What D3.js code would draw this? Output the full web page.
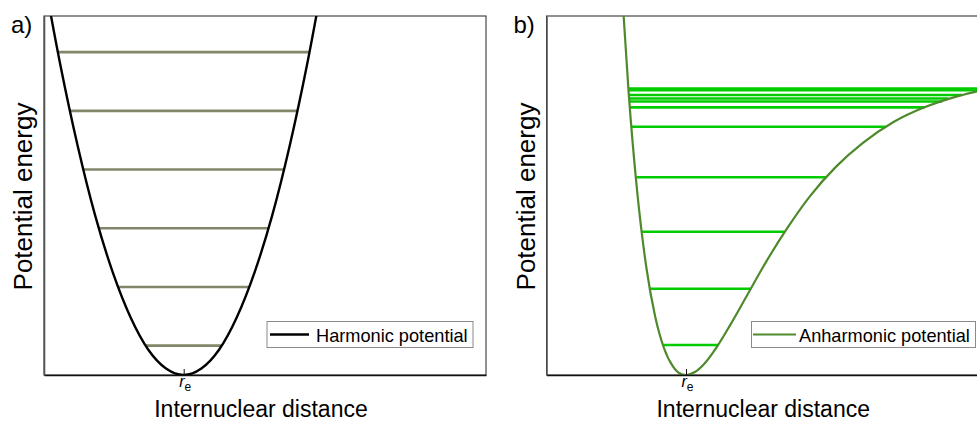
<!DOCTYPE html>
<html><head><meta charset="utf-8">
<script src="https://cdn.jsdelivr.net/npm/d3@7"></script>
<style>body{margin:0;background:#fff} svg{display:block;font-family:"Liberation Sans",Arial,sans-serif}</style>
</head><body><svg id="c" width="977" height="421"></svg>
<script>
// ---- data (arbitrary units) ----
const harmonicR = [-3.2,-2.8,-2.4,-2.0,-1.6,-1.2,-0.8,-0.4,0,0.4,0.8,1.2,1.6,2.0,2.4,2.8,3.2];
const harmonicV = [6.94,5.32,3.91,2.71,1.74,0.98,0.43,0.11,0,0.11,0.43,0.98,1.74,2.71,3.91,5.32,6.94];
const harmonicLevels = [0.5,1.5,2.5,3.5,4.5,5.5];
const harmonicLevelLeft = [-0.86,-1.49,-1.92,-2.27,-2.58,-2.85];
const harmonicLevelRight = [0.86,1.49,1.92,2.27,2.58,2.85];

const morseR = [-1.45,-1.3,-1.1,-0.9,-0.7,-0.5,-0.3,-0.15,0,0.2,0.4,0.7,1.0,1.4,1.8,2.3,2.8,3.4,4.0,4.7,5.4,6.2,7.0];
const morseV = [6.54,4.82,3.08,1.84,1.00,0.46,0.15,0.03,0,0.05,0.18,0.48,0.85,1.38,1.91,2.51,3.04,3.55,3.95,4.31,4.56,4.76,4.90];
const morseLevels = [0.51,1.47,2.44,3.37,4.23,4.56,4.66,4.71,4.77,4.85,4.88];
const morseLevelLeft = [-0.53,-0.82,-1.01,-1.14,-1.24,-1.27,-1.29,-1.29,-1.30,-1.30,-1.31];
const morseLevelRight = [0.73,1.47,2.23,3.18,4.52,5.41,5.80,5.94,6.25,6.68,6.90];

const xDomain = [-3.16, 6.84];
const yDomain = [0, 6.116];
const xTicks = [0];
const panelLabels = ["a)", "b)"];
const xTitle = "Internuclear distance";
const yTitle = "Potential energy";
const legendNames = ["Harmonic potential", "Anharmonic potential"];

// ---- drawing ----
const svg = d3.select("#c");
const panels = [
  {x0:44, x1:486, curveR:harmonicR, curveV:harmonicV, lv:harmonicLevels, lL:harmonicLevelLeft, lR:harmonicLevelRight,
   curveColor:"#000000", curveW:2.4, levelColor:"#808869", levelW:2.6,
   legend:{x:267, w:206, lineX:270, lineW:39, textX:316, fs:18.2}},
  {x0:546.5, x1:988, curveR:morseR, curveV:morseV, lv:morseLevels, lL:morseLevelLeft, lR:morseLevelRight,
   curveColor:"#4e8a2c", curveW:2.2, levelColor:"#00cc00", levelW:2.6,
   legend:{x:751.5, w:224, lineX:753, lineW:43, textX:799, fs:18.2}}
];
const plotTop = 16, plotBottom = 375;

panels.forEach((p, i) => {
  const x = d3.scaleLinear().domain(xDomain).range([p.x0, p.x1]);
  const y = d3.scaleLinear().domain(yDomain).range([plotBottom, plotTop]);
  const g = svg.append("g");
  const cid = "clip" + i;
  svg.append("clipPath").attr("id", cid).append("rect")
    .attr("x", p.x0).attr("y", plotTop).attr("width", p.x1 - p.x0).attr("height", plotBottom - plotTop);

  // frame
  g.append("rect").attr("x", p.x0).attr("y", plotTop).attr("width", p.x1 - p.x0).attr("height", plotBottom - plotTop)
    .attr("fill", "none").attr("stroke", "#222").attr("stroke-width", 1);

  const plot = g.append("g").attr("clip-path", `url(#${cid})`);
  // levels
  plot.selectAll("line.lv").data(p.lv).join("line").attr("class", "lv")
    .attr("x1", (d, k) => x(p.lL[k])).attr("x2", (d, k) => x(p.lR[k]))
    .attr("y1", d => y(d)).attr("y2", d => y(d))
    .attr("stroke", p.levelColor).attr("stroke-width", p.levelW);
  // curve
  const pts = p.curveR.map((r, k) => [r, p.curveV[k]]);
  plot.append("path").datum(pts)
    .attr("d", d3.line().x(d => x(d[0])).y(d => y(d[1])).curve(d3.curveMonotoneX))
    .attr("fill", "none").attr("stroke", p.curveColor).attr("stroke-width", p.curveW);

  // axes
  g.append("g").attr("transform", `translate(0,${plotBottom})`)
    .call(d3.axisBottom(x).tickValues(xTicks).tickSize(-6).tickSizeOuter(0).tickFormat(""))
    .call(a => a.select(".domain").attr("stroke", "#111").attr("stroke-width", 1.6))
    .call(a => a.selectAll(".tick line").attr("stroke", "#111").attr("stroke-width", 1));
  g.append("g").attr("transform", `translate(${p.x0},0)`)
    .call(d3.axisLeft(y).tickValues([]).tickSizeOuter(0))
    .call(a => a.select(".domain").attr("stroke", "#555").attr("stroke-width", 1.6));

  // r_e label
  const t = g.append("text").attr("x", x(0) - 4.5).attr("y", 387).attr("fill", "#000");
  t.append("tspan").text("r").attr("font-style", "italic").attr("font-size", 16);
  t.append("tspan").text("e").attr("font-size", 12).attr("dy", 4);

  // titles
  g.append("text").attr("x", (p.x0 + p.x1) / 2 - 4).attr("y", 417).attr("text-anchor", "middle")
    .attr("font-size", 23).attr("fill", "#000").text(xTitle);
  g.append("text").attr("transform", `translate(${p.x0 - 12},${(plotTop + plotBottom) / 2 + 1}) rotate(-90)`)
    .attr("text-anchor", "middle").attr("font-size", 26).attr("fill", "#000").text(yTitle);
  g.append("text").attr("x", p.x0 - 33).attr("y", 33).attr("font-size", 24).attr("fill", "#000").text(panelLabels[i]);

  // legend
  const L = p.legend;
  const lg = g.append("g");
  lg.append("rect").attr("x", L.x).attr("y", 321.5).attr("width", L.w).attr("height", 26)
    .attr("fill", "#fff").attr("stroke", "#8a8a8a").attr("stroke-width", 1);
  lg.append("line").attr("x1", L.lineX).attr("x2", L.lineX + L.lineW).attr("y1", 334.5).attr("y2", 334.5)
    .attr("stroke", p.curveColor).attr("stroke-width", p.curveW);
  lg.append("text").attr("x", L.textX).attr("y", 341.5).attr("font-size", L.fs).attr("fill", "#000")
    .text(legendNames[i]);
});
</script></body></html>
